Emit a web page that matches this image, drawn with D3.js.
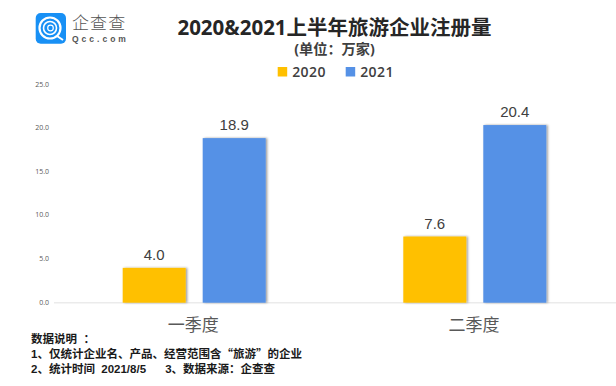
<!DOCTYPE html>
<html>
<head>
<meta charset="utf-8">
<script src="https://cdn.jsdelivr.net/npm/d3@7"></script>
<style>
  html, body { margin: 0; padding: 0; background: #fff; }
  svg { display: block; }
  text { font-family: "Open Sans", "Noto Sans CJK SC", sans-serif; }
</style>
</head>
<body>
<svg id="chart"></svg>
<script>
const categories = ["一季度", "二季度"];
const seriesNames = ["2020", "2021"];
const values2020 = [4.0, 7.6];
const values2021 = [18.9, 20.4];
const yTicks = [0, 5, 10, 15, 20, 25];
const notes = [
  "数据说明  ：",
  "1、仅统计企业名、产品、经营范围含“旅游”的企业",
  "2、统计时间  2021/8/5      3、数据来源：企查查"
];

const width = 616;
const height = 386;
const svg = d3.select("#chart").attr("width", width).attr("height", height);

const color = d3.scaleOrdinal().domain(seriesNames).range(["#ffc000", "#5591e6"]);

const x0 = d3.scaleBand().domain(categories).range([54, 615.2]);
const x1 = d3.scaleBand().domain(seriesNames).range([68.7, 211.7]).paddingInner(0.2125);
const y = d3.scaleLinear().domain([0, 25]).range([302.7, 85]);

// Shadow on the bars
const defs = svg.append("defs");
const shadow = defs.append("filter").attr("id", "bar-shadow")
  .attr("x", "-10%").attr("y", "-10%").attr("width", "125%").attr("height", "120%");
shadow.append("feDropShadow")
  .attr("dx", 1.5).attr("dy", 0).attr("stdDeviation", 0.9)
  .attr("flood-color", "#000").attr("flood-opacity", 0.4);

// Logo
const logo = svg.append("g");
logo.append("rect").attr("x", 35.7).attr("y", 13).attr("width", 30.3).attr("height", 30.7)
  .attr("rx", 5).attr("fill", "#1890f5");
logo.append("circle").attr("cx", 50).attr("cy", 28).attr("r", 10.5)
  .attr("fill", "none").attr("stroke", "#fff").attr("stroke-width", 2.2);
logo.append("circle").attr("cx", 50).attr("cy", 28).attr("r", 6.5)
  .attr("fill", "none").attr("stroke", "#fff").attr("stroke-width", 1.6);
logo.append("circle").attr("cx", 50.5).attr("cy", 28).attr("r", 2.8)
  .attr("fill", "none").attr("stroke", "#fff").attr("stroke-width", 1.2);
logo.append("line").attr("x1", 57).attr("y1", 36).attr("x2", 63).attr("y2", 40)
  .attr("stroke", "#fff").attr("stroke-width", 2);
logo.append("text").attr("x", 72).attr("y", 29)
  .attr("font-size", 17).attr("font-weight", 300).attr("letter-spacing", 1.1)
  .attr("fill", "#555").style("font-family", "'Noto Sans CJK SC'").text("企查查");
logo.append("text").attr("x", 72).attr("y", 42)
  .attr("font-size", 8.5).attr("font-weight", 700).attr("letter-spacing", 3)
  .attr("fill", "#555").style("font-family", "'Liberation Sans'").text("Qcc.com");

// Title
svg.append("text").attr("x", 334.5).attr("y", 35).attr("text-anchor", "middle")
  .attr("font-size", 20.5).attr("font-weight", 700).attr("fill", "#262626")
  .text("2020&2021上半年旅游企业注册量");
svg.append("text").attr("x", 334.5).attr("y", 54).attr("text-anchor", "middle")
  .attr("font-size", 14.2).attr("font-weight", 700).attr("fill", "#404040")
  .text("(单位：万家)");

// Legend
const legendX = d3.scaleOrdinal().domain(seriesNames).range([277.7, 345.7]);
const legend = svg.append("g").selectAll("g").data(seriesNames).join("g")
  .attr("transform", d => `translate(${legendX(d)},67)`);
legend.append("rect").attr("width", 9.5).attr("height", 9.5).attr("fill", d => color(d));
legend.append("text").attr("x", 14.5).attr("y", 10)
  .attr("font-size", 14).attr("font-weight", 600).attr("letter-spacing", 0.4)
  .attr("fill", "#404040").text(d => d);

// Y axis labels
svg.append("g").selectAll("text").data(yTicks).join("text")
  .attr("x", 49).attr("y", d => y(d) - 0.6).attr("dy", "0.35em").attr("text-anchor", "end")
  .attr("font-size", 7).attr("fill", "#595959")
  .text(d => d3.format(".1f")(d));

// Baseline
svg.append("line").attr("x1", 54).attr("x2", 616).attr("y1", y(0)).attr("y2", y(0))
  .attr("stroke", "#ebebeb").attr("stroke-width", 1.5);

// Bars
const rows = categories.flatMap((c, i) => [
  { cat: c, series: "2020", value: values2020[i] },
  { cat: c, series: "2021", value: values2021[i] }
]);

svg.append("g").selectAll("rect").data(rows).join("rect")
  .attr("x", d => x0(d.cat) + x1(d.series))
  .attr("y", d => y(d.value))
  .attr("width", x1.bandwidth())
  .attr("height", d => y(0) - y(d.value))
  .attr("fill", d => color(d.series))
  .attr("filter", "url(#bar-shadow)");

svg.append("g").selectAll("text").data(rows).join("text")
  .attr("x", d => x0(d.cat) + x1(d.series) + x1.bandwidth() / 2)
  .attr("y", d => y(d.value) - 8)
  .attr("text-anchor", "middle")
  .attr("font-size", 15).attr("fill", "#404040")
  .style("font-family", "'Liberation Sans'")
  .text(d => d.value.toFixed(1));

// Category labels
svg.append("g").selectAll("text").data(categories).join("text")
  .attr("x", d => x0(d) + x0.bandwidth() / 2 - 1)
  .attr("y", 331).attr("text-anchor", "middle")
  .attr("font-size", 17).attr("fill", "#595959")
  .text(d => d);

// Notes - the curly quotes need the CJK face to come out full width
const noteLines = svg.append("g").selectAll("text").data(notes).join("text")
  .attr("x", 31).attr("y", (d, i) => 343.3 + i * 14.7)
  .attr("font-size", 11.5).attr("font-weight", 700).attr("fill", "#1a1a1a")
  .style("white-space", "pre")
  .style("font-family", "'Liberation Sans', 'Noto Sans CJK SC'");

noteLines.selectAll("tspan").data(d => d.split(/([“”])/).filter(s => s)).join("tspan")
  .style("font-family", s => /[“”]/.test(s) ? "'Noto Sans CJK SC'" : null)
  .text(s => s);
</script>
</body>
</html>
